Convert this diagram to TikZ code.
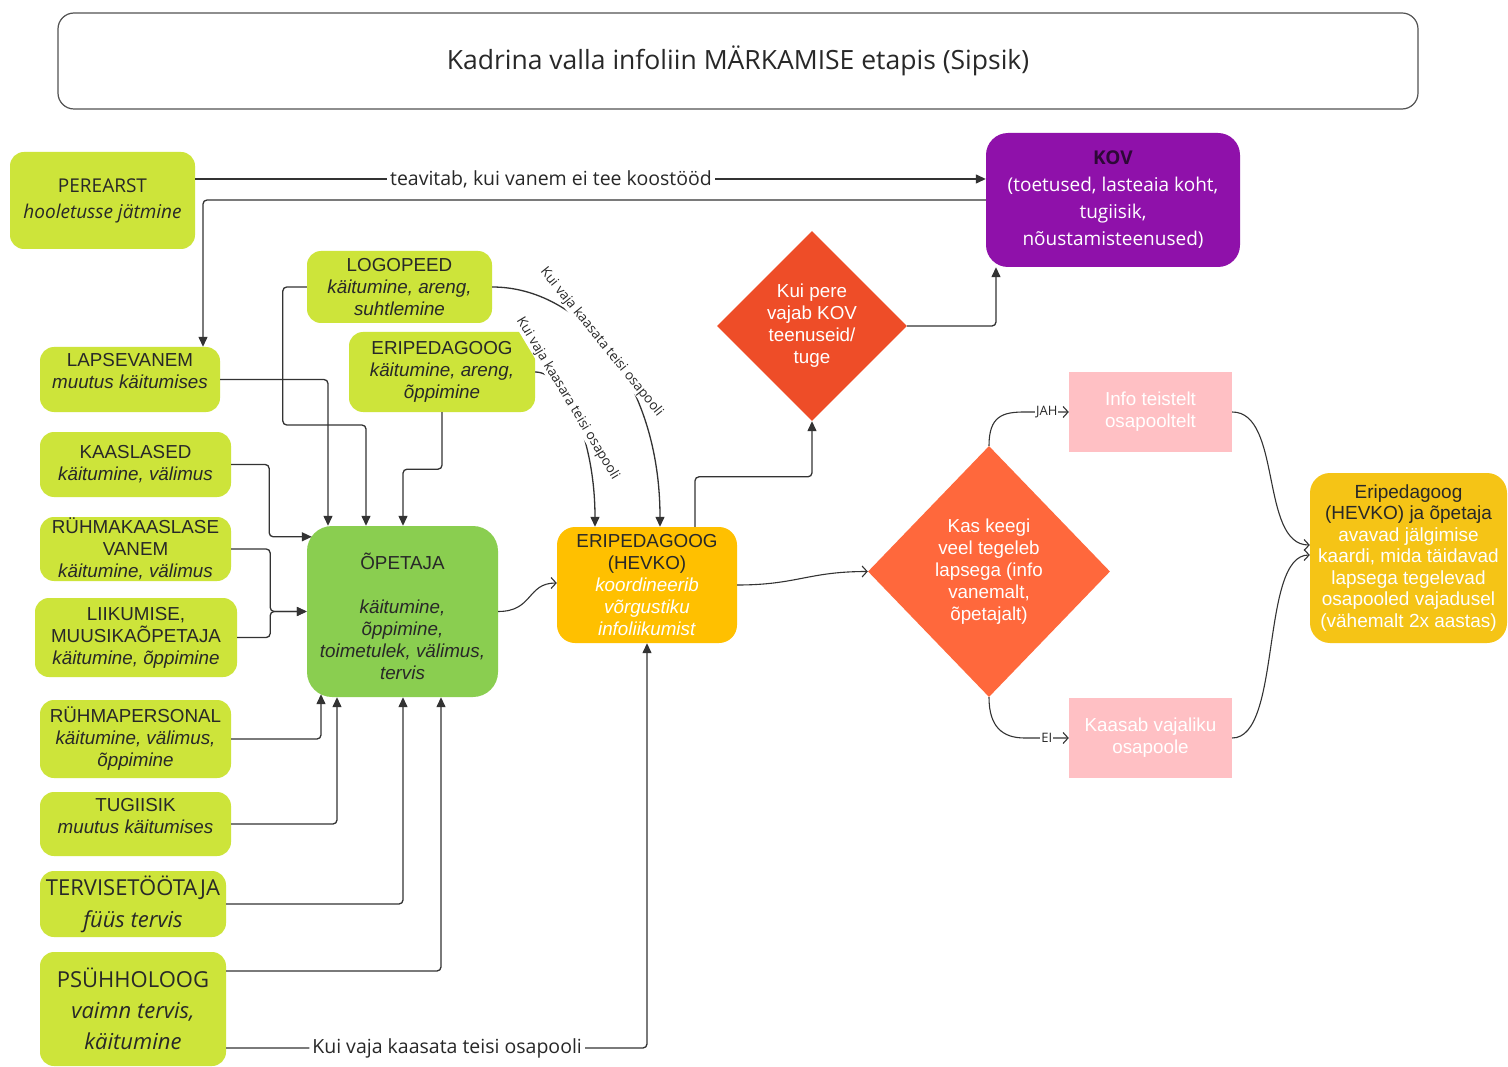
\documentclass[tikz,border=0pt]{standalone}
\usepackage{fontspec}
\setmainfont{Liberation Sans}
\newfontfamily\osans{Open Sans}
\usetikzlibrary{arrows.meta,shapes.geometric}
\definecolor{lime}{RGB}{205,228,58}
\definecolor{opgreen}{RGB}{138,206,80}
\definecolor{hevkoY}{RGB}{255,192,0}
\definecolor{finalY}{RGB}{245,196,22}
\definecolor{kovP}{RGB}{143,17,170}
\definecolor{kovText}{RGB}{45,8,55}
\definecolor{diaA}{RGB}{238,77,40}
\definecolor{diaB}{RGB}{255,104,60}
\definecolor{pinkB}{RGB}{255,192,196}
\definecolor{ink}{RGB}{40,40,40}
\definecolor{wire}{RGB}{51,51,51}
\newcommand\myfs[2]{\fontsize{#1}{#2}\selectfont}
\begin{document}
\begin{tikzpicture}[x=1pt,y=-1pt,
 box/.style={rounded corners=14pt, align=center, inner sep=0pt, text=ink, font=\myfs{18.8}{22}},
 limebox/.style={box, fill=lime},
 conn/.style={draw=wire, line width=1.3pt, rounded corners=4pt, -{Triangle[length=10pt,width=9pt]}},
 curv/.style={draw=wire, line width=1.1pt, -{Straight Barb[length=5pt,width=11pt]}},
 lbl/.style={fill=white, inner sep=3pt, text=ink, font=\osans\myfs{19.5}{21}},
 rlbl/.style={fill=white, inner sep=0.5pt, text=ink, font=\osans\myfs{13.5}{15}},
 slbl/.style={fill=white, inner sep=1pt, text=ink, font=\osans\myfs{13}{15}},
]
\useasboundingbox (0,0) rectangle (1508,1067);
\fill[white] (0,0) rectangle (1508,1067);

% title
\node[draw=wire!85, line width=1.2pt, rounded corners=16pt, minimum width=1360pt, minimum height=96pt, text=ink, font=\osans\myfs{26.5}{30}] (title) at (738,61) {Kadrina valla infoliin MÄRKAMISE etapis (Sipsik)};

% left column
\node[limebox, font=\osans\myfs{19}{26}, minimum width=185pt, minimum height=97pt] (perearst) at (102.5,200.5) {PEREARST\\\textit{hooletusse jätmine}};
\node[limebox, minimum width=185pt, minimum height=72pt] (logopeed) at (399.5,287) {LOGOPEED\\\textit{käitumine, areng,}\\\textit{suhtlemine}};
\node[limebox, minimum width=186pt, minimum height=80pt] (eriped) at (442,372) {ERIPEDAGOOG\\\textit{käitumine, areng,}\\\textit{õppimine}};
\node[limebox, minimum width=180pt, minimum height=65pt] (lapsevanem) at (130,379.5) {LAPSEVANEM\\\textit{muutus käitumises}\rule[-17pt]{0pt}{17pt}};
\node[limebox, minimum width=191pt, minimum height=65pt] (kaaslased) at (135.5,464.5) {KAASLASED\\\textit{käitumine, välimus}};
\node[limebox, minimum width=191pt, minimum height=64pt] (ryhmvanem) at (135.5,549) {RÜHMAKAASLASE\\VANEM\\\textit{käitumine, välimus}};
\node[limebox, minimum width=202pt, minimum height=79pt] (liikumise) at (136,637.5) {LIIKUMISE,\\MUUSIKAÕPETAJA\\\textit{käitumine, õppimine}};
\node[limebox, minimum width=191pt, minimum height=78pt] (ryhmpers) at (135.5,739) {RÜHMAPERSONAL\\\textit{käitumine, välimus,}\\\textit{õppimine}};
\node[limebox, minimum width=191pt, minimum height=64pt] (tugiisik) at (135.5,824) {TUGIISIK\\\textit{muutus käitumises}\rule[-17pt]{0pt}{17pt}};
\node[limebox, font=\osans\myfs{22}{32}, minimum width=186pt, minimum height=66pt] (tervis) at (133,904) {TERVISETÖÖTAJA\\\textit{füüs tervis}};
\node[limebox, font=\osans\myfs{22}{31}, minimum width=186pt, minimum height=114pt] (psyh) at (133,1009) {PSÜHHOLOOG\\\textit{vaimn tervis,}\\\textit{käitumine}};

% centre
\node[box, fill=opgreen, rounded corners=25pt, minimum width=191pt, minimum height=171pt] (opetaja) at (402.5,611.5) {\rule{0pt}{26pt}ÕPETAJA\\[22pt]\textit{käitumine,}\\\textit{õppimine,}\\\textit{toimetulek, välimus,}\\\textit{tervis}};
\node[box, fill=hevkoY, rounded corners=18pt, minimum width=180pt, minimum height=116pt] (hevko) at (647,585) {ERIPEDAGOOG\\(HEVKO)\\\textcolor{white}{\textit{koordineerib}}\\\textcolor{white}{\textit{võrgustiku}}\\\textcolor{white}{\textit{infoliikumist}}};

% right part
\node[box, fill=kovP, rounded corners=22pt, text=white, font=\osans\myfs{19}{27}, minimum width=254pt, minimum height=134pt] (kov) at (1113,200) {\textcolor{kovText}{\textbf{KOV}}\\(toetused, lasteaia koht,\\tugiisik,\\nõustamisteenused)};
\node[diamond, fill=diaA, inner sep=0pt, minimum width=190pt, minimum height=190pt, text=white, align=center, font=\myfs{18.8}{22}] (dia1) at (812,326) {Kui pere\\vajab KOV\\teenuseid/\\tuge};
\node[diamond, fill=diaB, inner sep=0pt, minimum width=242pt, minimum height=251pt, text=white, align=center, font=\myfs{18.8}{22}] (dia2) at (989,571.5) {Kas keegi\\veel tegeleb\\lapsega (info\\vanemalt,\\õpetajalt)};
\node[box, rounded corners=0pt, fill=pinkB, text=white, minimum width=163pt, minimum height=80pt] (pink1) at (1150.5,412) {Info teistelt\\osapooltelt};
\node[box, rounded corners=0pt, fill=pinkB, text=white, minimum width=163pt, minimum height=80pt] (pink2) at (1150.5,738) {Kaasab vajaliku\\osapoole};
\node[box, fill=finalY, rounded corners=20pt, minimum width=197pt, minimum height=170pt, font=\myfs{19}{21.5}] (final) at (1408.5,558) {Eripedagoog\\(HEVKO) ja õpetaja\\\textcolor{white}{avavad jälgimise}\\\textcolor{white}{kaardi, mida täidavad}\\\textcolor{white}{lapsega tegelevad}\\\textcolor{white}{osapooled vajadusel}\\\textcolor{white}{(vähemalt 2x aastas)}};

% connectors
\draw[conn] ([yshift=21.5pt]perearst.east) -- node[lbl, pos=0.45]{teavitab, kui vanem ei tee koostööd} ([yshift=21pt]kov.west);
\draw[conn] (kov.west) -| ([xshift=73pt]lapsevanem.north);
\draw[conn] (lapsevanem.east) -| ([xshift=-74.5pt]opetaja.north);
\draw[conn] (logopeed.west) -- ++(-24,0) -- ++(0,138) -| ([xshift=-36.5pt]opetaja.north);
\draw[conn] (eriped.south) -- ++(0,57) -| ([xshift=0.5pt]opetaja.north);
\draw[conn] (kaaslased.east) -- ++(38,0) |- ([xshift=5pt,yshift=-11pt]opetaja.north west);
\draw[conn] (ryhmvanem.east) -- ++(39,0) |- (opetaja.west);
\draw[conn] (liikumise.east) -- ++(33,0) |- (opetaja.west);
\draw[conn] (ryhmpers.east) -| ([xshift=-81.5pt,yshift=3pt]opetaja.south);
\draw[conn] (tugiisik.east) -| ([xshift=-65.5pt]opetaja.south);
\draw[conn] (tervis.east) -| ([xshift=0.5pt]opetaja.south);
\draw[conn] ([yshift=38pt]psyh.east) -| ([xshift=38.5pt]opetaja.south);
\draw[conn] ([yshift=-39pt]psyh.east) -| node[lbl, pos=0.2625]{Kui vaja kaasata teisi osapooli} (hevko.south);

\draw[curv] (opetaja.east) .. controls +(35,0) and +(-30,0) .. ([yshift=2pt]hevko.west);
\draw[conn] (logopeed.east) .. controls +(88,0) and +(0,-147) .. ([xshift=13pt]hevko.north) node[rlbl, pos=0.46, rotate=-51]{Kui vaja kaasata teisi osapooli};
\draw[conn] (eriped.east) .. controls +(30,0) and +(0,-87) .. ([xshift=-52pt]hevko.north) node[rlbl, pos=0.38, rotate=-59]{Kui vaja kaasara teisi osapooli};

\draw[conn] ([xshift=48pt]hevko.north) -- ++(0,-50) -| (dia1.south);
\draw[conn] (dia1.east) -| ([xshift=-117pt]kov.south);
\draw[curv] (hevko.east) .. controls +(60,0) and +(-60,0) .. (dia2.west);
\draw[curv] (dia2.north) .. controls +(0,-30) and +(-22,0) .. ([xshift=-44pt]pink1.west) -- node[slbl]{JAH} (pink1.west);
\draw[curv] (dia2.south) .. controls +(0,30) and +(-22,0) .. ([xshift=-44pt]pink2.west) -- node[slbl]{EI} (pink2.west);
\draw[curv] (pink1.east) .. controls +(50,0) and +(-50,0) .. ([yshift=13pt]final.west);
\draw[curv] (pink2.east) .. controls +(50,0) and +(-50,0) .. ([yshift=3pt]final.west);
\end{tikzpicture}
\end{document}
